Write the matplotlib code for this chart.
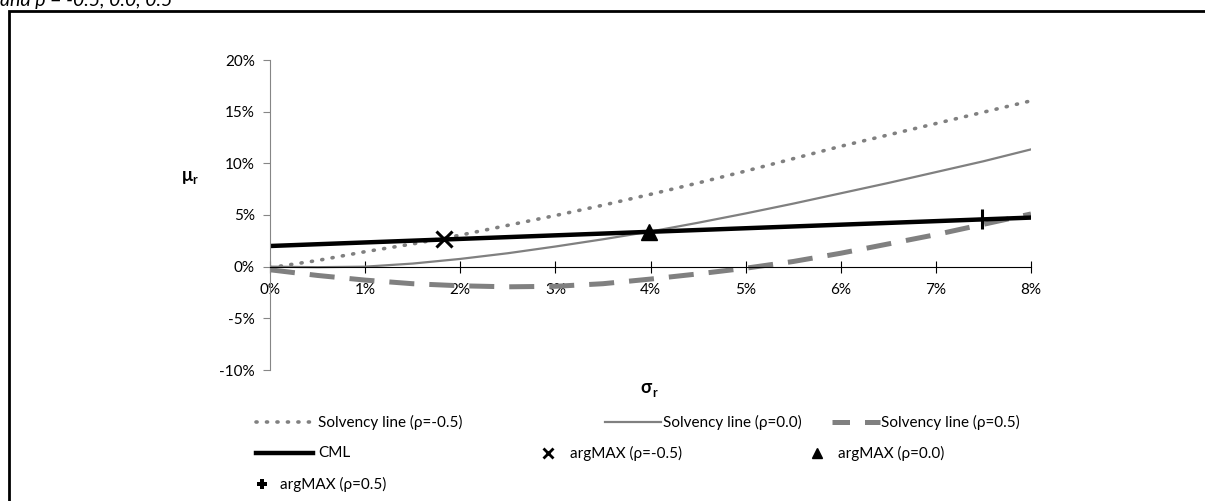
import numpy as np
import matplotlib.pyplot as plt
from matplotlib.lines import Line2D
from matplotlib.patches import Rectangle
from matplotlib.ticker import FuncFormatter

plt.rcParams['font.family'] = ['Lato', 'DejaVu Sans']

# sigma_r in percent
sigma = [0, 0.5, 1, 1.5, 2, 2.5, 3, 3.5, 4, 4.5, 5, 5.5, 6, 6.5, 7, 7.5, 8]
# solvency lines (mu_r in percent)
solv_neg = [-0.1, 0.6, 1.45, 2.2, 3.05, 4.0, 4.95, 5.95, 7.0, 8.1, 9.25, 10.45, 11.65,
            12.75, 13.85, 14.95, 16.05]
solv_zero = [0, -0.05, 0.0, 0.3, 0.75, 1.3, 1.95, 2.65, 3.4, 4.25, 5.15, 6.1, 7.1,
             8.1, 9.15, 10.2, 11.35]
solv_pos = [-0.3, -0.85, -1.3, -1.65, -1.85, -1.95, -1.9, -1.65, -1.2, -0.7, -0.15,
            0.5, 1.3, 2.2, 3.1, 4.1, 5.1]
# capital market line
cml_x = [0, 8]
cml_y = [2.0, 4.75]
# argMAX points
arg_neg = (1.83, 2.63)
arg_zero = (3.98, 3.37)
arg_pos = (7.48, 4.57)

W, H = 1205, 501
fig = plt.figure(figsize=(W / 100, H / 100), dpi=100)
ax = fig.add_axes([270 / W, 1 - 370 / H, (1031 - 270) / W, 310 / H])

grey = '#808080'
ax.plot(sigma, solv_neg, color=grey, lw=2.6, linestyle=(0, (0.3, 2.6)),
        dash_capstyle='round')
ax.plot(sigma, solv_zero, color=grey, lw=1.6)
ax.plot(sigma, solv_pos, color=grey, lw=3.6, linestyle=(0, (5, 3)))
ax.plot(cml_x, cml_y, color='black', lw=3.2)
ax.plot(*arg_neg, marker='x', color='black', ms=11, mew=2.2, ls='none')
ax.plot(*arg_zero, marker='^', color='black', ms=12, ls='none')
ax.plot(*arg_pos, marker='|', color='black', ms=15, mew=2.2, ls='none')
ax.plot(*arg_pos, marker='_', color='black', ms=7, mew=2.2, ls='none')

ax.set_xlim(0, 8)
ax.set_ylim(-10, 20)
ax.set_xticks(range(0, 9))
ax.set_yticks(range(-10, 21, 5))
pct = FuncFormatter(lambda v, p: f'{v:.0f}%')
ax.xaxis.set_major_formatter(pct)
ax.yaxis.set_major_formatter(pct)

spine_c = '#868686'
for s in ['top', 'right']:
    ax.spines[s].set_visible(False)
ax.spines['bottom'].set_position(('data', 0))
ax.spines['bottom'].set_color('black')
ax.spines['left'].set_color(spine_c)
ax.tick_params(axis='x', direction='inout', length=8, color='black', labelsize=11,
               pad=8)
ax.tick_params(axis='y', direction='out', length=5, color=spine_c, labelsize=11, pad=6)

# axis labels
ax.text(-0.108, 0.628, 'μ', transform=ax.transAxes, fontsize=13, fontweight='bold',
        ha='center', va='center')
ax.text(-0.099, 0.612, 'r', transform=ax.transAxes, fontsize=9, fontweight='bold',
        ha='center', va='center')
ax.text(0.494, -0.058, 'σ', transform=ax.transAxes, fontsize=13, fontweight='bold',
        ha='center', va='center')
ax.text(0.505, -0.074, 'r', transform=ax.transAxes, fontsize=9, fontweight='bold',
        ha='center', va='center')

# legend drawn in figure pixels
def fx(px):
    return px / W


def fy(py):
    return 1 - py / H


legend_items = [
    dict(kind='line', style=dict(color=grey, lw=2.6, linestyle=(0, (0.3, 2.6)),
                                  dash_capstyle='round'),
         x0=256, x1=313, tx=318, y=422, label='Solvency line (ρ=-0.5)'),
    dict(kind='line', style=dict(color=grey, lw=1.6),
         x0=605, x1=661, tx=663, y=422, label='Solvency line (ρ=0.0)'),
    dict(kind='line', style=dict(color=grey, lw=3.6, linestyle=(0, (3.5, 3))),
         x0=832, x1=880, tx=881, y=422, label='Solvency line (ρ=0.5)'),
    dict(kind='line', style=dict(color='black', lw=3.2),
         x0=256, x1=313, tx=318, y=453, label='CML'),
    dict(kind='marker', style=dict(marker='x', color='black', ms=7, mew=2),
         x0=548, tx=570, y=453, label='argMAX (ρ=-0.5)'),
    dict(kind='marker', style=dict(marker='^', color='black', ms=7),
         x0=817, tx=838, y=453, label='argMAX (ρ=0.0)'),
    dict(kind='marker', style=dict(marker='P', color='black', ms=7, mew=0),
         x0=262, tx=280, y=484, label='argMAX (ρ=0.5)'),
]
for it in legend_items:
    if it['kind'] == 'line':
        fig.add_artist(Line2D([fx(it['x0']), fx(it['x1'])], [fy(it['y'])] * 2,
                              transform=fig.transFigure, **it['style']))
    else:
        fig.add_artist(Line2D([fx(it['x0'])], [fy(it['y'])], ls='none',
                              transform=fig.transFigure, **it['style']))
    fig.text(fx(it['tx']), fy(it['y']), it['label'], fontsize=11, va='center',
             ha='left')

# outer frame and cut-off caption
fig.add_artist(Rectangle((fx(9), -0.2), 1.2, fy(10.5) + 0.2, fill=False,
                         edgecolor='black', lw=2, transform=fig.transFigure))
fig.text(0.0, fy(6), 'and ρ = -0.5, 0.0, 0.5', fontsize=14, style='italic',
         va='baseline', ha='left')

fig.savefig('out.png', dpi=100)
